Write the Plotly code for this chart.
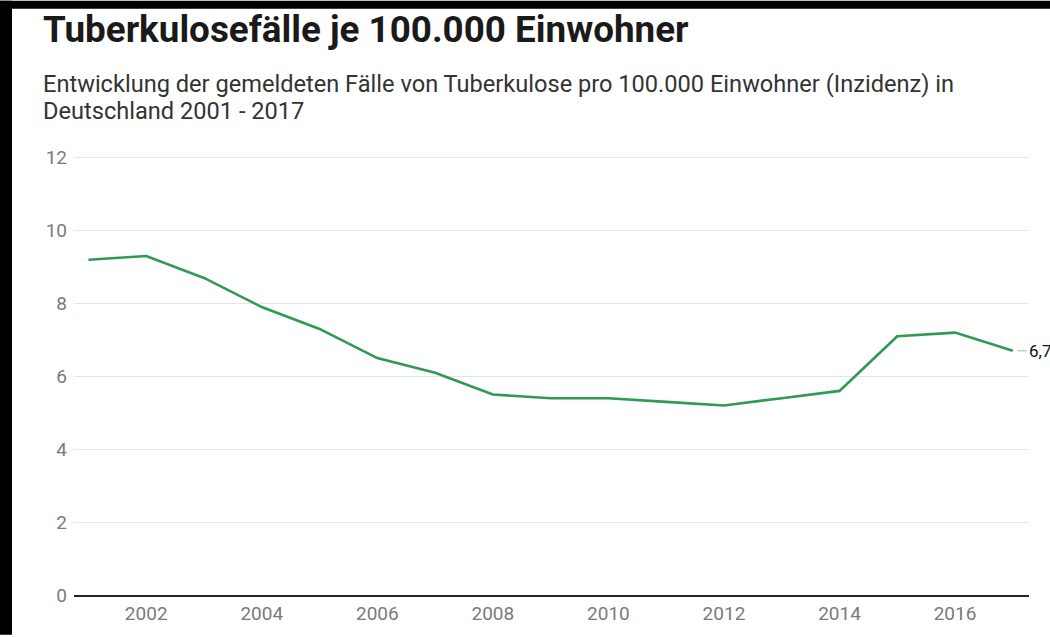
import plotly.graph_objects as go

# Daten: gemeldete Tuberkulosefaelle je 100.000 Einwohner
jahre = [2001, 2002, 2003, 2004, 2005, 2006, 2007, 2008, 2009,
         2010, 2011, 2012, 2013, 2014, 2015, 2016, 2017]
inzidenz = [9.2, 9.3, 8.7, 7.9, 7.3, 6.5, 6.1, 5.5, 5.4,
            5.4, 5.3, 5.2, 5.4, 5.6, 7.1, 7.2, 6.7]

titel = "Tuberkulosefälle je 100.000 Einwohner"
untertitel_1 = "Entwicklung der gemeldeten Fälle von Tuberkulose pro 100.000 Einwohner (Inzidenz) in"
untertitel_2 = "Deutschland 2001 - 2017"

W, H = 1050, 637
L, R, T, B = 74, 21, 154, 40
pw, ph = W - L - R, H - T - B

def px(x):
    return (x - L) / pw

def py(y):
    return (H - B - y) / ph

gruen = "#2f9a52"

fig = go.Figure()
fig.add_trace(go.Scatter(
    x=jahre, y=inzidenz, mode="lines",
    line=dict(color=gruen, width=2.6),
    hoverinfo="x+y",
))

annots = [
    dict(text="<b>" + titel + "</b>", x=px(41), y=py(29), font=dict(size=36.8, color="#1a1a1a")),
    dict(text=untertitel_1, x=px(41), y=py(84), font=dict(size=23.6, color="#333333")),
    dict(text=untertitel_2, x=px(41), y=py(111), font=dict(size=23.6, color="#333333")),
]
for a in annots:
    fig.add_annotation(xref="paper", yref="paper", xanchor="left", yanchor="middle",
                       showarrow=False, text=a["text"], x=a["x"], y=a["y"],
                       font=dict(family="Roboto", **a["font"]))

# Wertelabel am letzten Punkt
fig.add_annotation(
    x=jahre[-1], y=inzidenz[-1], text=f"{inzidenz[-1]:.1f}".replace(".", ","),
    showarrow=True, arrowhead=0, arrowwidth=1, arrowcolor="#8cc79f",
    ax=14, ay=0, standoff=5, xanchor="left",
    font=dict(family="Roboto", size=17, color="#111111"),
)

# schwarzer Rand links und oben
fig.add_shape(type="rect", xref="paper", yref="paper", x0=px(0), x1=px(12), y0=py(H), y1=py(0),
              fillcolor="black", line_width=0, layer="above")
fig.add_shape(type="rect", xref="paper", yref="paper", x0=px(0), x1=px(W), y0=py(8), y1=py(0),
              fillcolor="black", line_width=0, layer="above")

fig.update_layout(
    width=W, height=H,
    margin=dict(l=L, r=R, t=T, b=B),
    paper_bgcolor="white", plot_bgcolor="white",
    showlegend=False,
    font=dict(family="Roboto", color="#7a7a7a"),
    xaxis=dict(
        range=[2000.75, 2017.28], tick0=2000, dtick=2,
        showgrid=False, zeroline=False,
        showline=True, linecolor="#222222", linewidth=2,
        ticks="", tickfont=dict(size=19, color="#7a7a7a"),
    ),
    yaxis=dict(
        range=[0, 12.1], dtick=2,
        showgrid=True, gridcolor="#e6e6e6", gridwidth=1,
        zeroline=False, ticks="",
        tickfont=dict(size=19, color="#7a7a7a"),
        ticklabelstandoff=6,
    ),
)

fig.write_html("out.html", config={"displayModeBar": False},
               post_script="document.body.style.margin='0';document.body.style.overflow='hidden';"
                           "document.documentElement.style.overflow='hidden';"
                           "document.body.style.background='white';")
